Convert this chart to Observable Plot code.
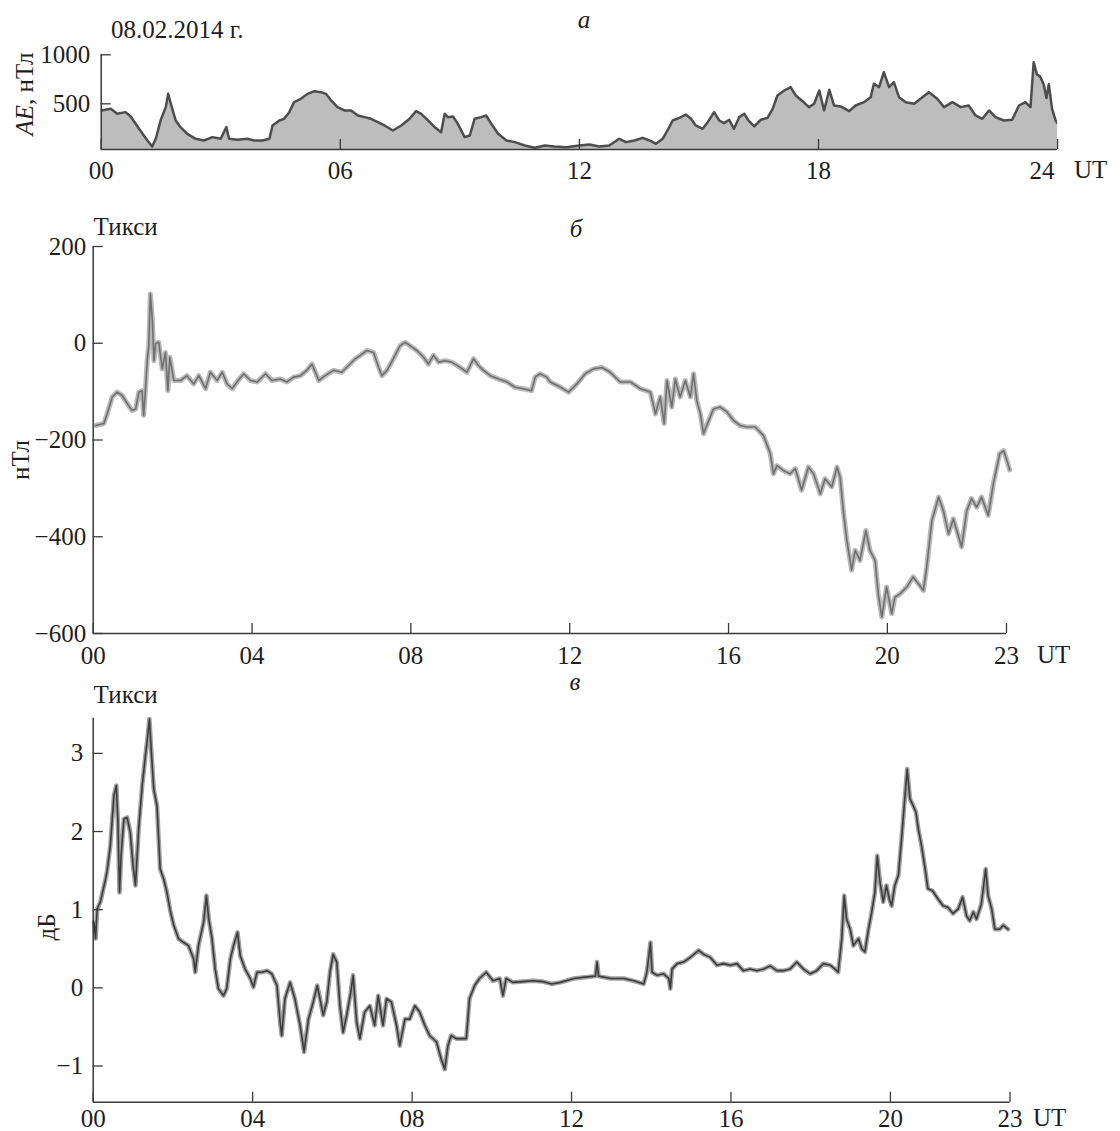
<!DOCTYPE html>
<html>
<head>
<meta charset="utf-8">
<script src="https://cdn.jsdelivr.net/npm/d3@7"></script>
<script src="https://cdn.jsdelivr.net/npm/@observablehq/plot@0.6"></script>
<style>
  body { margin: 0; background: #fff; }
  #wrap { position: relative; width: 1120px; height: 1131px; background: #fff; }
  .panel { position: absolute; left: 0; }
  #overlay { position: absolute; left: 0; top: 0; pointer-events: none; }
</style>
</head>
<body>
<div id="wrap"></div>
<script>
// ---------- Panel а: AE index (nT) ----------
const aeHours = [0, 0.24, 0.40, 0.61, 0.74, 0.95, 1.16, 1.28, 1.37, 1.49,
  1.62, 1.68, 1.76, 1.87, 1.99, 2.16, 2.37, 2.58, 2.79, 3.00,
  3.14, 3.21, 3.42, 3.67, 3.84, 4.05, 4.22, 4.30, 4.47, 4.59,
  4.72, 4.84, 5.01, 5.18, 5.35, 5.52, 5.64, 5.77, 5.93, 6.10,
  6.27, 6.44, 6.61, 6.77, 6.94, 7.11, 7.32, 7.53, 7.74, 7.90,
  8.03, 8.20, 8.37, 8.53, 8.62, 8.70, 8.83, 8.95, 9.12, 9.25,
  9.37, 9.54, 9.66, 9.79, 9.96, 10.17, 10.38, 10.63, 10.88, 11.13,
  11.38, 11.67, 12.0, 12.25, 12.50, 12.75, 13.00, 13.17, 13.38, 13.59,
  13.80, 13.92, 14.09, 14.21, 14.34, 14.51, 14.67, 14.80, 14.92, 15.09,
  15.22, 15.38, 15.51, 15.63, 15.76, 15.88, 16.01, 16.14, 16.24, 16.39,
  16.55, 16.72, 16.85, 16.97, 17.14, 17.30, 17.43, 17.60, 17.76, 17.89,
  18.02, 18.14, 18.27, 18.39, 18.56, 18.77, 18.93, 19.14, 19.31, 19.39,
  19.52, 19.64, 19.77, 19.89, 20.02, 20.19, 20.40, 20.56, 20.77, 20.98,
  21.15, 21.36, 21.57, 21.77, 21.94, 22.11, 22.28, 22.44, 22.65, 22.86,
  23.03, 23.19, 23.32, 23.40, 23.48, 23.56, 23.65, 23.72, 23.78, 23.86,
  23.95, 24.0];
const aeValues = [432, 449, 398, 415, 370, 245, 126, 65, 143, 330,
  466, 602, 483, 330, 262, 194, 143, 126, 160, 143,
  262, 143, 133, 143, 126, 126, 143, 279, 330, 347,
  415, 517, 551, 602, 629, 619, 602, 534, 466, 432,
  432, 381, 364, 347, 313, 279, 228, 279, 347, 425,
  398, 330, 262, 211, 398, 364, 370, 296, 160, 177,
  347, 364, 381, 296, 194, 126, 109, 75, 51, 75,
  65, 58, 75, 85, 65, 75, 143, 109, 126, 153,
  119, 92, 143, 228, 330, 357, 391, 347, 279, 245,
  313, 415, 330, 303, 337, 245, 364, 398, 330, 269,
  337, 357, 449, 585, 636, 670, 585, 527, 466, 500,
  636, 432, 643, 483, 473, 425, 483, 517, 568, 704,
  670, 823, 670, 721, 568, 517, 500, 551, 619, 551,
  466, 517, 466, 483, 381, 347, 432, 364, 330, 337,
  483, 517, 466, 925, 800, 780, 700, 560, 700, 450,
  330, 300];
const aeXTicks = [0, 6, 12, 18];
const aeXLastTick = [24];
const aeYTicks = [500, 1000];
const aeYDomain = [34, 1000];

// ---------- Panel б: Tiksi, magnetic field (nT) ----------
const bHours = [0.06, 0.27, 0.35, 0.48, 0.60, 0.73, 0.86, 0.98, 1.07, 1.15,
  1.23, 1.27, 1.32, 1.36, 1.40, 1.44, 1.49, 1.53, 1.57, 1.65,
  1.74, 1.82, 1.88, 1.93, 2.03, 2.20, 2.36, 2.53, 2.66, 2.83,
  2.95, 3.12, 3.25, 3.37, 3.50, 3.62, 3.79, 3.96, 4.13, 4.34,
  4.50, 4.71, 4.88, 5.05, 5.22, 5.38, 5.51, 5.68, 5.84, 6.05,
  6.26, 6.43, 6.60, 6.73, 6.89, 7.06, 7.19, 7.27, 7.40, 7.56,
  7.73, 7.86, 7.98, 8.15, 8.32, 8.44, 8.57, 8.70, 8.86, 9.03,
  9.24, 9.41, 9.58, 9.70, 9.83, 10.0, 10.21, 10.42, 10.62, 10.83,
  11.04, 11.13, 11.25, 11.42, 11.51, 11.77, 11.97, 12.18, 12.39, 12.60,
  12.81, 13.02, 13.27, 13.53, 13.78, 14.03, 14.16, 14.28, 14.38, 14.45,
  14.57, 14.66, 14.78, 14.91, 15.04, 15.12, 15.20, 15.29, 15.37, 15.50,
  15.62, 15.79, 15.96, 16.13, 16.29, 16.46, 16.67, 16.88, 17.05, 17.13,
  17.22, 17.38, 17.55, 17.68, 17.84, 18.01, 18.14, 18.31, 18.43, 18.60,
  18.73, 18.81, 18.89, 18.98, 19.10, 19.19, 19.31, 19.46, 19.56, 19.69,
  19.77, 19.86, 19.98, 20.11, 20.19, 20.32, 20.49, 20.65, 20.78, 20.91,
  20.99, 21.12, 21.29, 21.41, 21.54, 21.66, 21.87, 22.00, 22.12, 22.25,
  22.37, 22.54, 22.67, 22.83, 22.93, 23.0, 23.08];
const bValues = [-170, -166, -146, -111, -101, -108, -125, -139, -136, -101,
  -98, -149, -91, -36, -5, 102, 47, -36, -1, 2,
  -53, -19, -98, -29, -77, -77, -67, -84, -67, -94,
  -60, -77, -60, -84, -94, -80, -63, -77, -80, -63,
  -77, -74, -80, -70, -67, -56, -43, -77, -67, -56,
  -60, -46, -32, -25, -15, -19, -50, -67, -56, -32,
  -5, 2, -5, -15, -29, -43, -25, -39, -36, -39,
  -50, -60, -32, -46, -56, -67, -74, -80, -91, -94,
  -98, -70, -63, -70, -80, -91, -101, -84, -63, -53,
  -50, -60, -80, -80, -94, -101, -146, -111, -166, -77,
  -132, -74, -111, -77, -111, -63, -118, -146, -187, -160,
  -136, -132, -142, -160, -170, -173, -173, -191, -228, -270,
  -253, -263, -270, -259, -304, -256, -270, -311, -280, -297,
  -256, -277, -346, -408, -469, -428, -449, -387, -428, -449,
  -518, -566, -504, -559, -525, -518, -504, -483, -497, -511,
  -463, -367, -318, -346, -394, -363, -421, -346, -321, -339,
  -318, -356, -290, -228, -222, -240, -262];
const hourTicks = [0, 4, 8, 12, 16, 20, 23];
const bYTicks = [-600, -400, -200, 0, 200];
const bYDomain = [-600, 200];

// ---------- Panel в: Tiksi, absorption (dB) ----------
const cHours = [0.02, 0.06, 0.10, 0.18, 0.31, 0.35, 0.43, 0.52, 0.58, 0.62,
  0.66, 0.70, 0.77, 0.85, 0.93, 1.00, 1.06, 1.14, 1.23, 1.31,
  1.35, 1.41, 1.46, 1.52, 1.60, 1.68, 1.77, 1.85, 1.94, 2.02,
  2.14, 2.27, 2.39, 2.52, 2.56, 2.64, 2.77, 2.84, 2.90, 2.98,
  3.06, 3.14, 3.27, 3.35, 3.44, 3.52, 3.62, 3.69, 3.81, 3.94,
  4.02, 4.11, 4.23, 4.36, 4.48, 4.61, 4.69, 4.73, 4.81, 4.94,
  5.06, 5.19, 5.29, 5.40, 5.52, 5.62, 5.69, 5.77, 5.86, 5.94,
  6.02, 6.11, 6.19, 6.27, 6.36, 6.46, 6.52, 6.61, 6.69, 6.81,
  6.94, 7.06, 7.15, 7.27, 7.36, 7.48, 7.61, 7.69, 7.82, 7.94,
  8.07, 8.19, 8.32, 8.44, 8.61, 8.73, 8.82, 8.90, 8.98, 9.11,
  9.23, 9.36, 9.44, 9.57, 9.69, 9.86, 10.03, 10.20, 10.28, 10.36,
  10.53, 10.78, 11.03, 11.28, 11.50, 11.72, 12.06, 12.39, 12.60, 12.64,
  12.68, 12.98, 13.31, 13.56, 13.81, 13.89, 13.98, 14.02, 14.15, 14.31,
  14.44, 14.48, 14.52, 14.65, 14.81, 14.98, 15.19, 15.31, 15.48, 15.65,
  15.81, 15.98, 16.15, 16.31, 16.48, 16.65, 16.82, 16.98, 17.15, 17.32,
  17.48, 17.65, 17.82, 17.99, 18.15, 18.32, 18.49, 18.61, 18.69, 18.78,
  18.84, 18.90, 18.99, 19.07, 19.20, 19.28, 19.36, 19.45, 19.53, 19.61,
  19.67, 19.74, 19.82, 19.90, 19.97, 20.03, 20.11, 20.20, 20.28, 20.36,
  20.42, 20.49, 20.57, 20.64, 20.70, 20.78, 20.86, 20.94, 21.06, 21.19,
  21.32, 21.44, 21.57, 21.70, 21.81, 21.91, 21.99, 22.08, 22.16, 22.28,
  22.39, 22.45, 22.54, 22.62, 22.74, 22.83, 22.95];
const cValues = [0.84, 0.63, 1.01, 1.10, 1.39, 1.50, 1.82, 2.46, 2.59, 2.12,
  1.22, 1.69, 2.16, 2.18, 1.99, 1.56, 1.31, 2.03, 2.59, 2.97,
  3.14, 3.44, 3.01, 2.54, 2.33, 1.52, 1.39, 1.22, 0.97, 0.80,
  0.63, 0.58, 0.54, 0.37, 0.20, 0.54, 0.84, 1.18, 0.88, 0.63,
  0.24, -0.01, -0.10, -0.01, 0.37, 0.54, 0.71, 0.41, 0.24, 0.12,
  0.01, 0.20, 0.20, 0.22, 0.18, 0.03, -0.44, -0.61, -0.14, 0.07,
  -0.14, -0.48, -0.82, -0.40, -0.18, 0.03, -0.14, -0.35, -0.18, 0.20,
  0.43, 0.33, -0.23, -0.57, -0.35, -0.06, 0.16, -0.44, -0.65, -0.31,
  -0.23, -0.48, -0.10, -0.48, -0.14, -0.18, -0.48, -0.74, -0.40, -0.40,
  -0.23, -0.31, -0.48, -0.61, -0.69, -0.91, -1.04, -0.74, -0.61, -0.65,
  -0.65, -0.65, -0.14, 0.03, 0.12, 0.20, 0.09, 0.12, -0.10, 0.12,
  0.07, 0.08, 0.09, 0.08, 0.05, 0.07, 0.12, 0.14, 0.15, 0.33,
  0.15, 0.12, 0.12, 0.09, 0.05, 0.20, 0.58, 0.20, 0.16, 0.18,
  0.12, -0.01, 0.24, 0.31, 0.33, 0.39, 0.48, 0.43, 0.39, 0.29,
  0.31, 0.29, 0.31, 0.22, 0.24, 0.22, 0.24, 0.28, 0.22, 0.22,
  0.24, 0.33, 0.24, 0.18, 0.22, 0.31, 0.29, 0.24, 0.20, 0.63,
  1.18, 0.88, 0.75, 0.54, 0.63, 0.50, 0.46, 0.75, 0.97, 1.22,
  1.69, 1.35, 1.10, 1.31, 1.14, 1.05, 1.31, 1.44, 1.91, 2.42,
  2.80, 2.42, 2.33, 2.25, 2.03, 1.82, 1.56, 1.27, 1.24, 1.14,
  1.05, 1.03, 0.95, 1.01, 1.16, 0.92, 0.86, 0.97, 0.88, 1.07,
  1.52, 1.18, 1.01, 0.75, 0.75, 0.80, 0.75];
const cYTicks = [-1, 0, 1, 2, 3];
const cYDomain = [-1.463, 3.45];

// ---------- helpers ----------
const FONT = '"Liberation Serif", "Times New Roman", serif';
const FONT_SIZE = "25px";
const INK = "#1e1e1e";
const AXIS = "#3a3a3a";
const fmtHour = d => d3.format("02d")(d);
const fmtNum = d => d < 0 ? "\u2212" + Math.abs(d) : String(d);
const toRows = (xs, ys) => xs.map((h, i) => ({h, v: ys[i]}));

const aeRows = toRows(aeHours, aeValues);
const bRows = toRows(bHours, bValues);
const cRows = toRows(cHours, cValues);

function frameAxes({xTicks, yTicks, xMin, yMin, xPad, yPad, xLabels = true}) {
  const marks = [
    Plot.ruleX([xMin], {stroke: AXIS, strokeWidth: 1.5}),
    Plot.ruleY([yMin], {stroke: AXIS, strokeWidth: 1.5}),
    Plot.axisX({ticks: xTicks, tickSize: -10, tickFormat: () => "", label: null, stroke: AXIS, strokeWidth: 1.3}),
    Plot.axisY({ticks: yTicks, tickSize: -10, tickFormat: () => "", label: null, stroke: AXIS, strokeWidth: 1.3}),
    Plot.axisY({ticks: yTicks, tickSize: 0, tickPadding: yPad, tickFormat: fmtNum, label: null, fill: INK})
  ];
  if (xLabels) marks.push(Plot.axisX({ticks: xTicks, tickSize: 0, tickPadding: xPad, tickFormat: fmtHour, label: null, fill: INK}));
  return marks;
}

const baseStyle = {fontFamily: FONT, fontSize: FONT_SIZE, color: INK, background: "transparent", overflow: "visible"};

// Panel а
const plotA = Plot.plot({
  width: 1120, height: 190,
  marginLeft: 100.7, marginRight: 62.9, marginTop: 54.3, marginBottom: 41,
  x: {domain: [0, 24]},
  y: {domain: aeYDomain},
  style: baseStyle,
  marks: [
    Plot.areaY(aeRows, {x: "h", y: "v", fill: "#bdbdbd", clip: true}),
    Plot.lineY(aeRows, {x: "h", y: "v", stroke: "#4d4d4d", strokeWidth: 2.5, clip: true}),
    ...frameAxes({xTicks: aeXTicks.concat(aeXLastTick), yTicks: aeYTicks, xMin: 0, yMin: aeYDomain[0], xPad: 12, yPad: 11, xLabels: false}),
    Plot.axisX({ticks: aeXTicks, tickSize: 0, tickPadding: 12, tickFormat: fmtHour, label: null, fill: INK}),
    Plot.axisX({ticks: aeXLastTick, tickSize: 0, tickPadding: 12, dx: -15.5, tickFormat: fmtHour, label: null, fill: INK})
  ]
});

// Panel б
const plotB = Plot.plot({
  width: 1120, height: 480,
  marginLeft: 92.7, marginRight: 114, marginTop: 56, marginBottom: 37,
  x: {domain: [0, 23]},
  y: {domain: bYDomain},
  style: baseStyle,
  marks: [
    Plot.lineY(bRows, {x: "h", y: "v", stroke: "#b8b8b8", strokeWidth: 5}),
    Plot.lineY(bRows, {x: "h", y: "v", stroke: "#707070", strokeWidth: 1.6}),
    ...frameAxes({xTicks: hourTicks, yTicks: bYTicks, xMin: 0, yMin: bYDomain[0], xPad: 13, yPad: 7})
  ]
});

// Panel в
const plotC = Plot.plot({
  width: 1120, height: 461,
  marginLeft: 92.7, marginRight: 110.5, marginTop: 47.7, marginBottom: 29.3,
  x: {domain: [0, 23]},
  y: {domain: cYDomain},
  style: baseStyle,
  marks: [
    Plot.lineY(cRows, {x: "h", y: "v", stroke: "#a0a0a0", strokeWidth: 4.5}),
    Plot.lineY(cRows, {x: "h", y: "v", stroke: "#3c3c3c", strokeWidth: 1.6}),
    ...frameAxes({xTicks: hourTicks, yTicks: cYTicks, xMin: 0, yMin: cYDomain[0], xPad: 7, yPad: 10})
  ]
});

const wrap = document.getElementById("wrap");
[[plotA, 0], [plotB, 190], [plotC, 670]].forEach(([p, top]) => {
  p.classList.add("panel");
  p.style.position = "absolute";
  p.style.top = top + "px";
  p.style.left = "0px";
  wrap.appendChild(p);
});

// ---------- annotations ----------
const ov = d3.select(wrap).append("svg")
  .attr("id", "overlay").attr("width", 1120).attr("height", 1131)
  .style("font-family", FONT).style("font-size", FONT_SIZE).attr("fill", INK);

function label(x, y, str, {anchor = "start", italic = false, rotate = 0} = {}) {
  const t = ov.append("text")
    .attr("transform", `translate(${x},${y})` + (rotate ? ` rotate(${rotate})` : ""))
    .attr("text-anchor", anchor)
    .text(str);
  if (italic) t.attr("font-style", "italic");
  return t;
}

label(111, 38, "08.02.2014 г.");
label(584, 28, "а", {anchor: "middle", italic: true});
const aeLab = ov.append("text").attr("transform", "translate(33,94) rotate(-90)").attr("text-anchor", "middle");
aeLab.append("tspan").attr("font-style", "italic").text("AE");
aeLab.append("tspan").text(", нТл");
label(1074, 178, "UT");

label(93.6, 235, "Тикси");
label(576, 236.5, "б", {anchor: "middle", italic: true});
label(28.6, 460, "нТл", {anchor: "middle", rotate: -90});
label(1037, 663, "UT");

label(93.6, 703, "Тикси");
label(575, 690, "в", {anchor: "middle", italic: true});
label(55, 927, "дБ", {anchor: "middle", rotate: -90});
label(1033, 1126, "UT");
</script>
</body>
</html>
